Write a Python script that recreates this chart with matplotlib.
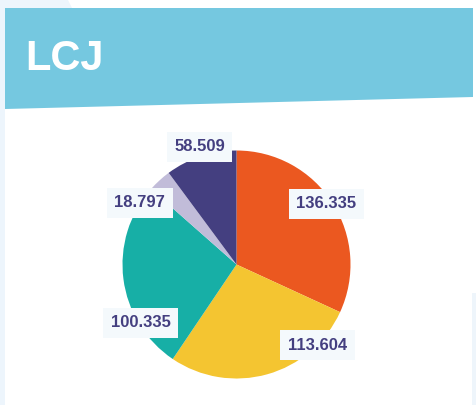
import matplotlib.pyplot as plt
from matplotlib.patches import Polygon, Rectangle

title = 'LCJ'
labels = ['136.335', '113.604', '100.335', '18.797', '58.509']
# wedge sweep in degrees as drawn in the picture (the drawn slices don't follow the labels exactly)
sweeps = [114.7, 99.3, 97.4, 12.1, 36.5]
colors = ['#EB5820', '#F4C531', '#17AFA6', '#C1BCD9', '#443F80']

# label spots around the pie, in units of the radius
label_pos = [(0.79, 0.535), (0.71, -0.71), (-0.84, -0.51), (-0.85, 0.54), (-0.325, 1.035)]

W, H = 477, 405
fig = plt.figure(figsize=(W / 100, H / 100), dpi=100)
fig.patch.set_facecolor('white')

# background decoration, pixel coords
bg = fig.add_axes([0, 0, 1, 1])
bg.set_xlim(0, W)
bg.set_ylim(H, 0)
bg.axis('off')
bg.add_patch(Rectangle((0, 0), 5, H, color='#EDF5FC', lw=0))
bg.add_patch(Polygon([(0, 0), (68, 0), (72, 8), (0, 8)], color='#EDF5FC', lw=0))
bg.add_patch(Rectangle((472, 293), 5, H - 293, color='#EEF5FB', lw=0))
bg.add_patch(Polygon([(5, 8), (473, 8), (473, 97), (5, 109)], color='#75C8E0', lw=0))
bg.text(25, 59, title, color='white', fontsize=30, fontweight='bold',
        family='Liberation Sans', va='center', ha='left')

cx, cy, r = 236.5, 264.5, 114
ax = fig.add_axes([(cx - r) / W, (H - cy - r) / H, 2 * r / W, 2 * r / H])
ax.pie(sweeps, colors=colors, startangle=90, counterclock=False, radius=1,
       wedgeprops=dict(linewidth=0))
ax.set_xlim(-1, 1)
ax.set_ylim(-1, 1)
ax.set_aspect('equal')
ax.axis('off')

for lab, (x, y) in zip(labels, label_pos):
    ax.text(x, y, lab, ha='center', va='center', fontsize=12, fontweight='bold',
            family='Liberation Sans', color='#443F80', clip_on=False,
            bbox=dict(boxstyle='square,pad=0.45', fc='#F4F9FC', ec='none'))

fig.savefig('out.png', dpi=100)
